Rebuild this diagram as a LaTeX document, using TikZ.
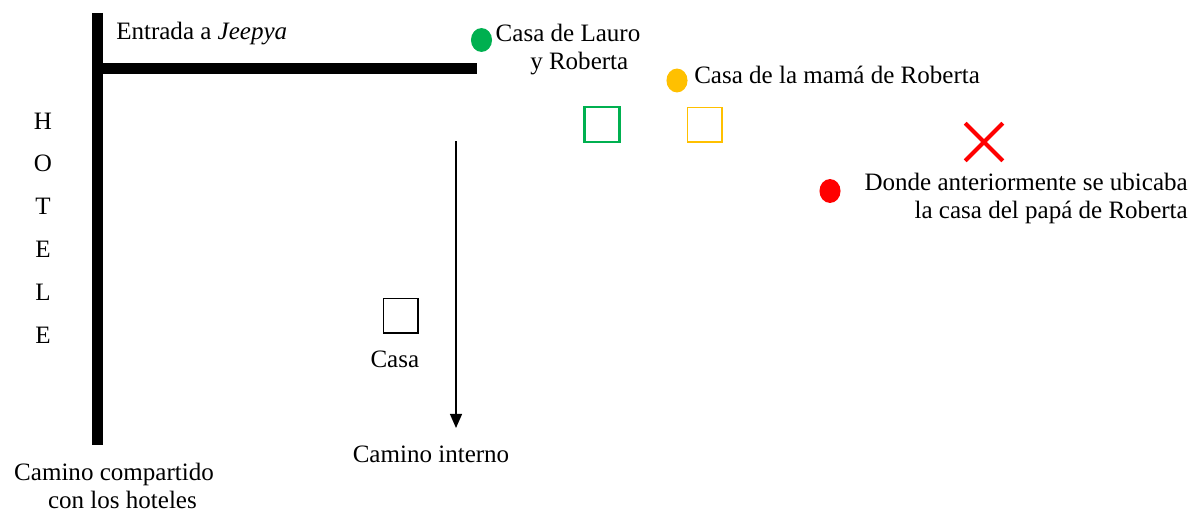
\documentclass[tikz,border=0pt]{standalone}
\usepackage{fontspec}
\setmainfont{Liberation Serif}
\usetikzlibrary{positioning,arrows.meta,shapes.geometric,shapes.misc}
\definecolor{verde}{HTML}{00B050}
\definecolor{ambar}{HTML}{FFC000}
\definecolor{rojo}{HTML}{FF0000}
\tikzset{
  road/.style={line width=7.8pt},
  txt/.style={font=\fontsize{17.8}{19.9}\selectfont, inner sep=0pt},
  dot/.style={ellipse, inner sep=0pt, minimum width=15pt, minimum height=17pt},
  casa/.style={draw, inner sep=0pt, minimum size=24.5pt, line width=1.1pt},
}
\begin{document}
\begin{tikzpicture}[x=0.025cm,y=-0.025cm]
      \useasboundingbox (0,0) rectangle (1202,512);
      \coordinate (R0) at (97.5,13);
      \coordinate (R1) at (97.5,445);
      \coordinate (E0) at (92,68.5);
      \coordinate (E1) at (477,68.5);
      \draw[road] (R0) -- (R1);
      \draw[road] (E0) -- (E1);
      \node[txt, anchor=base west] (entrada) at (116,40) {Entrada a \textit{Jeepya}};
      \foreach \l [count=\i] in {H,O,T,E,L,E}
        \node[txt, anchor=base] (hotel\i) at (43,129+42.8*\i-42.8) {\l};
      \node[txt, align=center] (compartido) at (114,486) {Camino compartido\\\hspace*{12pt}con los hoteles};
      \node[dot, fill=verde] (dlauro) at (481.5,40) {};
      \node[txt, align=center] (lauro) at (568,50) {Casa de Lauro\\\hspace*{16pt}y Roberta};
      \node[dot, fill=ambar] (dmama) at (677,80.5) {};
      \node[txt, anchor=base west] (mama) at (694,83) {Casa de la mamá de Roberta};
      \node[casa, draw=verde, line width=2.1pt, minimum size=24.9pt] (clauro) at (602,124.5) {};
      \node[casa, draw=ambar] (cmama) at (704.5,124.5) {};
      \node[cross out, draw=rojo, line width=2.8pt, minimum size=24pt, inner sep=0pt] (equis) at (984,142) {};
      \node[dot, fill=rojo] (dpapa) at (830,191) {};
      \node[txt, align=right, anchor=east] (papa) at (1188,198) {Donde anteriormente se ubicaba\\la casa del papá de Roberta};
      \node[casa] (casa) at (400.5,315.5) {};
      \node[txt, below=12pt of casa, xshift=-4pt] (lcasa) {Casa};
      \coordinate (I0) at (456,141);
      \coordinate (I1) at (456,428);
      \draw[-{Triangle[length=10pt,width=8.5pt]}, line width=1.1pt] (I0) -- (I1);
      \node[txt, anchor=base] (interno) at (431,462) {Camino interno};
    \end{tikzpicture}
\end{document}
